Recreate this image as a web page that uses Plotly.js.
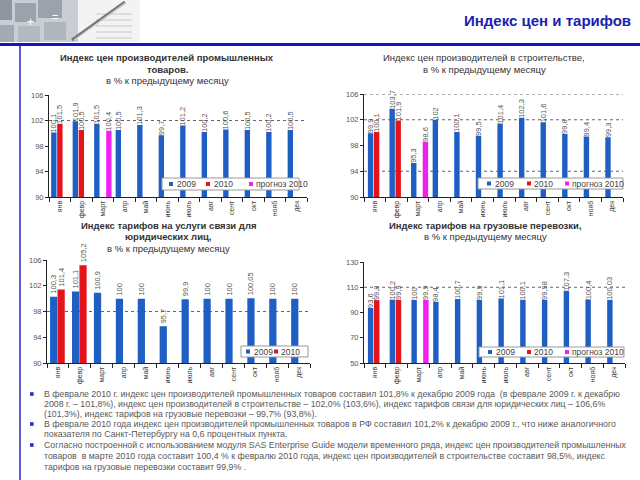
<!DOCTYPE html>
<html><head><meta charset="utf-8">
<script src="https://cdn.plot.ly/plotly-3.0.1.min.js"></script>
<style>html,body{margin:0;padding:0;background:#fff}#chart{width:640px;height:480px}</style>
</head><body><div id="chart"></div>
<script>
// ---------- DATA ----------
const months = ["янв","февр","март","апр","май","июнь","июль","авг","сент","окт","нояб","дек"];
const seriesNames = ["2009","2010","прогноз 2010"];

const ind2009 = [100.1,101.9,101.5,100.5,101.3,99.7,101.2,100.2,100.6,100.5,100.2,100.5];
const ind2010 = [101.5,100.5];
const indForecast = [null,null,100.4];

const con2009 = [99.9,103.7,95.3,102,100.1,99.5,101.4,102.3,101.6,99.8,99.4,99.3];
const con2010 = [100.1,101.9];
const conForecast = [null,null,98.6];

const com2009 = [100.3,101.1,100.9,100,100,95.7,99.9,100,100,100.05,100,100];
const com2010 = [101.4,105.2];

const fr2009 = [93.6,100.2,100,98.4,100.7,99.9,101.1,100.1,99.98,107.3,100.4,100.03];
const fr2010 = [99.8,99.9];
const frForecast = [null,null,99.9];

const ticksA = [90,94,98,102,106];
const ticksB = [50,70,90,110,130];

const titles = {
  c1: ["Индекс цен производителей промышленных","товаров.","в % к предыдущему месяцу"],
  c2: ["Индекс цен производителей в строительстве,","в % к предыдущему месяцу"],
  c3: ["Индекс тарифов на услуги связи для","юридических лиц,","в % к предыдущему месяцу"],
  c4: ["Индекс тарифов на грузовые перевозки,","в % к предыдущему месяцу"]
};
const headerTitle = "Индекс цен и тарифов";
const bullets = [
  ["В феврале 2010 г. индекс цен производителей промышленных товаров составил 101,8% к декабрю 2009 года  (в феврале 2009 г. к декабрю",
   "2008 г. – 101,8%), индекс цен производителей в строительстве – 102,0% (103,6%), индекс тарифов связи для юридических лиц – 106,6%",
   "(101,3%), индекс тарифов на грузовые перевозки – 99,7% (93,8%)."],
  ["В феврале 2010 года индекс цен производителей промышленных товаров в РФ составил 101,2% к декабрю 2009 г., что ниже аналогичного",
   "показателя по Санкт-Петербургу на 0,6 процентных пункта."],
  ["Согласно построенной с использованием модуля SAS Enterprise Guide модели временного ряда, индекс цен производителей промышленных",
   "товаров  в марте 2010 года составит 100,4 % к февралю 2010 года, индекс цен производителей в строительстве составит 98,5%, индекс",
   "тарифов на грузовые перевозки составит 99,9% ."]
];

// ---------- HELPERS ----------
const W = 640, H = 480;
const F = "Liberation Sans, Arial, sans-serif";
const px = x => x / W, py = y => 1 - y / H;
const fmt = v => v == null ? '' : String(v).replace('.', ',');
const C = {b:'#1f5fc4', r:'#e3141b', m:'#ee22ee'};

function bar(xa, ya, vals, color, offset, width, name){
  return {type:'bar', x: months.slice(0, vals.length), y: vals, xaxis: xa, yaxis: ya, name: name,
    marker:{color: color}, width: width, offset: offset,
    text: vals.map(fmt), textposition:'outside', textangle:-90,
    textfont:{size:7.5, color:'#555', family:F}, constraintext:'none', cliponaxis:false,
    showlegend:false, hoverinfo:'skip'};
}
function xax(d, yname){
  return {domain:d, anchor:yname, type:'category', categoryorder:'array', categoryarray:months,
    range:[-0.5, 11.5], showline:true, linecolor:'#222', linewidth:1, ticks:'outside', tickson:'boundaries',
    ticklen:4, tickcolor:'#222', tickangle:-90, tickfont:{size:7, color:'#333', family:F},
    showgrid:false, zeroline:false};
}
function yax(d, xname, range, tv){
  return {domain:d, anchor:xname, range:range, tickvals:tv, ticktext:tv.map(String),
    showline:true, linecolor:'#222', linewidth:1, ticks:'outside', ticklen:3, tickcolor:'#222',
    tickfont:{size:7.5, color:'#555', family:F}, showgrid:false, zeroline:false};
}

const traces = [
  bar('x','y', ind2009, C.b, -0.40, 0.25, seriesNames[0]),
  bar('x','y', ind2010, C.r, -0.12, 0.25, seriesNames[1]),
  bar('x','y', indForecast, C.m, 0.16, 0.25, seriesNames[2]),
  bar('x2','y2', con2009, C.b, -0.32, 0.25, seriesNames[0]),
  bar('x2','y2', con2010, C.r, -0.04, 0.25, seriesNames[1]),
  bar('x2','y2', conForecast, C.m, 0.22, 0.25, seriesNames[2]),
  bar('x3','y3', com2009, C.b, -0.36, 0.33, seriesNames[0]),
  bar('x3','y3', com2010, C.r, -0.02, 0.33, seriesNames[1]),
  bar('x4','y4', fr2009, C.b, -0.32, 0.25, seriesNames[0]),
  bar('x4','y4', fr2010, C.r, -0.04, 0.25, seriesNames[1]),
  bar('x4','y4', frForecast, C.m, 0.22, 0.25, seriesNames[2])
];

const shapes = [];
const annotations = [];

// header decoration (calculator picture approximation)
function rect(x0,y0,x1,y1,fill,line){ shapes.push({type:'rect', xref:'paper', yref:'paper', x0:px(x0), x1:px(x1), y0:py(y1), y1:py(y0), fillcolor:fill, line:{width: line?1:0, color: line||fill}, layer:'above'}); }
function lineP(x0,y0,x1,y1,color,w){ shapes.push({type:'line', xref:'paper', yref:'paper', x0:px(x0), x1:px(x1), y0:py(y0), y1:py(y1), line:{color:color, width:w}, layer:'above'}); }
rect(0,0,78,42,'#c9ced4');
rect(0,0,12,20,'#8d959f'); rect(15,3,36,22,'#9aa2ac'); rect(38,0,62,18,'#9aa2ac');
rect(0,25,14,42,'#a3aab3'); rect(18,26,40,42,'#b3b9c0'); rect(44,22,66,40,'#b0b6bd');
annotations.push({xref:'paper', yref:'paper', x:px(25), y:py(13), text:'+', showarrow:false, font:{size:12, color:'#fff', family:F}});
annotations.push({xref:'paper', yref:'paper', x:px(50), y:py(9), text:'=', showarrow:false, font:{size:11, color:'#fff', family:F}});
rect(78,0,140,42,'#f3f3f3');
for (let i=0;i<5;i++){ lineP(96,14+i*6,132,14+i*6,'#c8c8c8',1); }
lineP(72,40,125,2,'#777',3);
lineP(74,40,125,3,'#ddd',1);

// header line & title
lineP(0,44.5,640,44.5,'#1414c8',3);
lineP(20,46,20,480,'#2828c0',1.5);
annotations.push({xref:'paper', yref:'paper', x:px(633), y:py(21), xanchor:'right', yanchor:'middle', text:'<b>'+headerTitle+'</b>', showarrow:false, font:{size:15, color:'#1a22b0', family:F}});

// chart titles
function titleLines(lines, cx, ys, bolds){
  lines.forEach((t,i)=>{
    annotations.push({xref:'paper', yref:'paper', x:px(cx), y:py(ys[i]), xanchor:'center', yanchor:'middle',
      text: bolds[i] ? '<b>'+t+'</b>' : t, showarrow:false, font:{size:9.5, color:'#333', family:F}});
  });
}
titleLines(titles.c1, 167, [57,69,81], [true,true,false]);
titleLines(titles.c2, 484, [57,69], [false,false]);
titleLines(titles.c3, 168, [225,236,248], [true,true,false]);
titleLines(titles.c4, 485, [225,236], [true,false]);

// dashed reference lines
function dash(xref, yref, v){ shapes.push({type:'line', xref: xref+' domain', yref: yref, x0:0, x1:1, y0:v, y1:v, line:{dash:'dot', color:'#666', width:1}, layer:'below'}); }
dash('x','y',102);
dash('x2','y2',106); dash('x2','y2',102); dash('x2','y2',94);
dash('x3','y3',98);
dash('x4','y4',110);

// legends (manual boxes)
function legendBox(x0,x1,y0,y1,items){
  rect(x0,y0,x1,y1,'#ffffff','#999');
  const ym = (y0+y1)/2;
  items.forEach(it=>{
    rect(it.sx-2, ym-2, it.sx+2, ym+2, it.c);
    annotations.push({xref:'paper', yref:'paper', x:px(it.tx), y:py(ym), xanchor:'left', yanchor:'middle', text:it.n, showarrow:false, font:{size:8.5, color:'#444', family:F}});
  });
}
legendBox(162,299,178,190,[{sx:171,tx:175,c:C.b,n:seriesNames[0]},{sx:208,tx:212,c:C.r,n:seriesNames[1]},{sx:251,tx:254,c:C.m,n:seriesNames[2]}]);
legendBox(478,623,178,189,[{sx:489,tx:493,c:C.b,n:seriesNames[0]},{sx:529,tx:532,c:C.r,n:seriesNames[1]},{sx:567,tx:570,c:C.m,n:seriesNames[2]}]);
legendBox(241,308,346,357,[{sx:248,tx:252,c:C.b,n:seriesNames[0]},{sx:276,tx:279,c:C.r,n:seriesNames[1]}]);
legendBox(479,624,347,357,[{sx:490,tx:494,c:C.b,n:seriesNames[0]},{sx:529,tx:532,c:C.r,n:seriesNames[1]},{sx:567,tx:570,c:C.m,n:seriesNames[2]}]);

// bullets
const lineYs = [[394,404,414],[424,434],[445,456,467]];
bullets.forEach((b,bi)=>{
  const by = lineYs[bi][0];
  rect(30,by-1.8,33.6,by+1.8,'#2a2ad0');
  b.forEach((t,li)=>{
    annotations.push({xref:'paper', yref:'paper', x:px(42), y:py(lineYs[bi][li]), xanchor:'left', yanchor:'middle', text:t, showarrow:false, font:{size:8.8, color:'#595959', family:F}});
  });
});

const layout = {
  width:W, height:H, margin:{l:0,r:0,t:0,b:0}, paper_bgcolor:'#fff', plot_bgcolor:'#fff',
  barmode:'overlay', showlegend:false, font:{family:F},
  xaxis: xax([px(49),px(307)],'y'),  yaxis: yax([py(197),py(95)],'x',[90,106],ticksA),
  xaxis2: xax([px(364),px(623)],'y2'), yaxis2: yax([py(197),py(94)],'x2',[90,106],ticksA),
  xaxis3: xax([px(47),px(310)],'y3'), yaxis3: yax([py(363),py(260)],'x3',[90,106],ticksA),
  xaxis4: xax([px(364),px(625)],'y4'), yaxis4: yax([py(363),py(262)],'x4',[50,130],ticksB),
  shapes: shapes, annotations: annotations
};
Plotly.newPlot('chart', traces, layout, {displayModeBar:false, staticPlot:true});
</script></body></html>
